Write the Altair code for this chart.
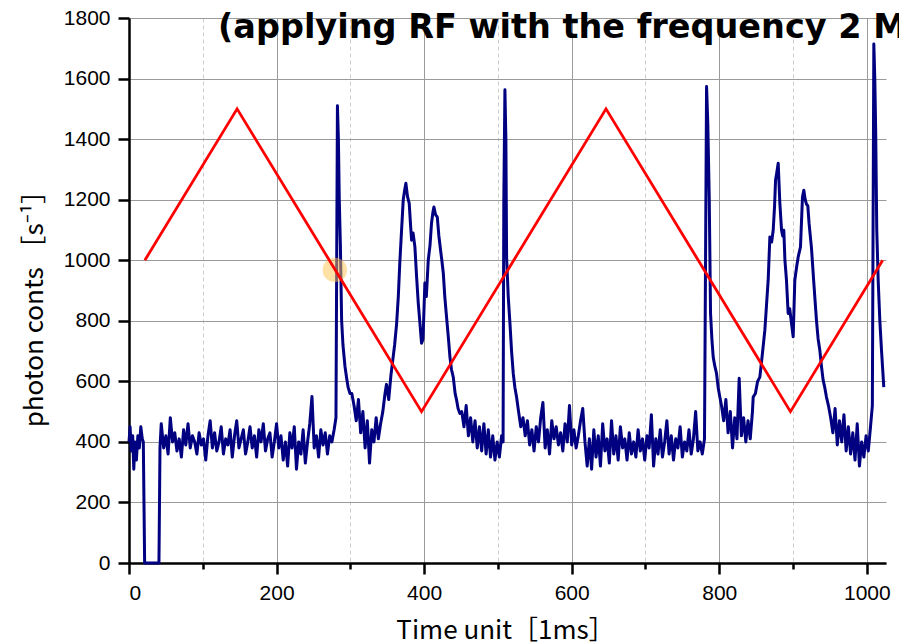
import altair as alt
import pandas as pd

# ---------------- data ----------------
title_text = "(applying RF with the frequency 2 MHz)"
x_title = "Time unit［1ms］"
y_title = "photon conts ［s⁻¹］"

x_tick_values = [0, 100, 200, 300, 400, 500, 600, 700, 800, 900, 1000]
y_tick_values = [0, 100, 200, 300, 400, 500, 600, 700, 800, 900, 1000,
                 1100, 1200, 1300, 1400, 1500, 1600, 1700, 1800]

# start of trace + dropout to zero
start_t = [0, 1.5, 3, 5, 6.5, 8, 10, 12, 14, 16, 18, 19.4, 21.2, 40.6, 42, 43.7]
start_v = [400, 450, 370, 420, 310, 400, 340, 420, 380, 450, 410, 400, 0, 0, 380, 460]

# baseline 47..278
base1_t = list(range(47, 279, 3))
base1_v = [380, 420, 360, 480, 400, 430, 370, 410, 350, 440,
           390, 460, 380, 420, 400, 360, 430, 390, 410, 340,
           420, 470, 380, 430, 370, 400, 450, 360, 410, 390,
           440, 350, 420, 470, 380, 410, 440, 360, 400, 450,
           380, 420, 350, 440, 400, 460, 370, 410, 430, 350,
           400, 460, 380, 420, 340, 400, 320, 430, 380, 450,
           310, 400, 360, 440, 330, 400, 460, 550, 380, 420,
           350, 440, 390, 430, 360, 420, 400, 440]

# spike 1
spike1_t = [280.5, 282.5, 283.8, 285, 286.5, 288.2, 290, 292.7, 295, 297, 299.5]
spike1_v = [480, 1510, 1400, 1200, 1050, 800, 720, 650, 610, 580, 560]

noise1_t = list(range(302, 347, 3))
noise1_v = [560, 520, 470, 540, 430, 500, 380, 470, 330, 440, 400, 480, 410, 460, 500]

# double peak 1
peakA_t = [347, 349, 352, 355, 358, 360, 362.7, 365, 367, 369,
           371.7, 373.5, 375.3, 377.5, 379.8, 381.5, 383, 385, 387.5, 389.8,
           392, 394.3, 396.5, 398.5, 401, 403, 405.6, 408, 410, 412,
           413.3, 415.5, 417.8, 420, 422.3, 424, 426, 428, 430.4, 433,
           435, 437, 439.5, 442, 444, 446, 448.5]
peakA_v = [560, 590, 540, 620, 680, 720, 790, 880, 990, 1080,
           1200, 1230, 1254, 1210, 1188, 1120, 1066, 1090, 1044, 945,
           860, 792, 726, 740, 925, 880, 1000, 1050, 1122, 1160,
           1176, 1150, 1143, 1080, 1033, 1000, 957, 880, 812, 740,
           680, 640, 614, 560, 538, 510, 494]

noise2_t = list(range(451, 506, 3))
noise2_v = [500, 450, 520, 420, 480, 400, 470, 380, 450, 370,
            460, 360, 440, 350, 420, 340, 400, 350, 420]

# spike 2
spike2_t = [507, 508, 509.5, 510.8, 511.8, 514, 516.3, 518.5, 520.8, 523, 525.3]
spike2_v = [400, 1200, 1563, 1400, 1010, 880, 792, 700, 626, 580, 548]

# baseline 528..780
base2_t = list(range(528, 781, 3))
base2_v = [500, 450, 480, 420, 470, 390, 440, 370, 450, 400,
           480, 530, 380, 440, 360, 470, 410, 450, 390, 430,
           370, 460, 400, 520, 390, 440, 380, 420, 470, 510,
           400, 320, 410, 310, 440, 350, 420, 320, 460, 370,
           410, 330, 470, 360, 420, 340, 450, 380, 410, 340,
           430, 360, 400, 350, 440, 370, 410, 340, 420, 380,
           490, 320, 410, 360, 440, 350, 400, 470, 360, 420,
           340, 410, 380, 450, 350, 400, 370, 440, 360, 410,
           500, 370, 400, 360, 410]

# spike 3
spike3_t = [782.8, 784.5, 786.4, 788.2, 790, 791.8, 794, 796.3, 798.5, 800.8]
spike3_v = [1574, 1450, 1210, 824, 740, 680, 650, 626, 580, 548]

noise3_t = list(range(803, 846, 3))
noise3_v = [520, 470, 540, 430, 500, 380, 480, 410, 610, 420, 480, 400, 470, 410, 500]

# double peak 2
peakB_t = [846, 849, 852, 855, 858, 861.8, 864, 866.3, 868.6, 871,
           873.1, 875, 876.3, 878, 879.9, 882.1, 884.4, 886, 887.5, 889,
           891.1, 893.4, 895.5, 897.9, 900.2, 902.4, 905, 907, 910.1, 912.8,
           914.6, 916.5, 918.2, 920, 921.8, 925, 928.2, 931.8, 934, 936.3,
           938.5, 940.8, 943, 945.3, 948]
peakB_v = [548, 560, 600, 614, 680, 769, 850, 934, 1077, 1060,
           1099, 1180, 1264, 1290, 1320, 1190, 1100, 1080, 1099, 1000,
           934, 824, 840, 792, 747, 934, 980, 1011, 1044, 1209,
           1231, 1200, 1185, 1180, 1120, 1040, 924, 800, 740, 703,
           650, 604, 580, 548, 520]

noise4_t = list(range(951, 1006, 3))
noise4_v = [480, 430, 510, 390, 470, 400, 490, 370, 450, 360,
            430, 340, 460, 320, 400, 350, 420, 370, 450]

# spike 4
spike4_t = [1007.5, 1009.5, 1010.8, 1012, 1013.5, 1015.4, 1017.6, 1019.9, 1021.5, 1023]
spike4_v = [520, 1714, 1600, 1431, 1099, 934, 802, 703, 640, 581]

# triangular RF sweep
rf_t = [21.5, 146.5, 396.5, 646.5, 896.5, 1021.5]
rf_v = [1000, 1500, 500, 1500, 500, 1000]

# cursor highlight
mark_t = [279]
mark_v = [968]

# ---------------- build tables ----------------
segments_t = [start_t, base1_t, spike1_t, noise1_t, peakA_t, noise2_t, spike2_t,
              base2_t, spike3_t, noise3_t, peakB_t, noise4_t, spike4_t]
segments_v = [start_v, base1_v, spike1_v, noise1_v, peakA_v, noise2_v, spike2_v,
              base2_v, spike3_v, noise3_v, peakB_v, noise4_v, spike4_v]
trace_t, trace_v = [], []
for ts, vs in zip(segments_t, segments_v):
    assert len(ts) == len(vs), (len(ts), len(vs))
    trace_t += list(ts)
    trace_v += list(vs)
trace = pd.DataFrame({"t": trace_t, "v": trace_v, "o": range(len(trace_t))})
rf = pd.DataFrame({"t": rf_t, "v": rf_v, "o": range(len(rf_t))})
cursor = pd.DataFrame({"t": mark_t, "v": mark_v})
title_df = pd.DataFrame({"txt": [title_text]})

W, H = 757, 545
xscale = alt.Scale(domain=[0, 1026], nice=False, zero=False)
yscale = alt.Scale(domain=[0, 1800], nice=False)

major_x = "datum.value % 200 === 0"
major_y = "datum.value % 200 === 0"

common_axis = dict(
    domainColor="black", domainWidth=2.5,
    tickColor="black", tickWidth=2.5,
    labelFont="Liberation Sans", labelFontSize=21, labelColor="black",
    titleFont="Noto Sans CJK JP", titleFontSize=26, titleColor="black",
    titleFontWeight="normal", format="d",
)

xaxis = alt.Axis(
    values=x_tick_values,
    labelExpr="datum.value % 200 === 0 ? datum.label : ''",
    gridDash={"condition": {"test": major_x, "value": []}, "value": [4, 3]},
    gridColor={"condition": {"test": major_x, "value": "#9a9a9a"}, "value": "#cccccc"},
    gridWidth=1,
    tickSize={"condition": {"test": major_x, "value": 11}, "value": 6},
    labelPadding=8,
    title=x_title, titleX=376, titleY=75, titleBaseline="alphabetic", titleAlign="center",
    **common_axis,
)
yaxis = alt.Axis(
    values=y_tick_values,
    labelExpr="datum.value % 200 === 0 ? datum.label : ''",
    gridDash={"condition": {"test": major_y, "value": []}, "value": [4, 3]},
    gridColor={"condition": {"test": major_y, "value": "#9a9a9a"}, "value": "#cccccc"},
    gridWidth=1,
    tickSize={"condition": {"test": major_y, "value": 11}, "value": 6},
    labelPadding=8,
    title=y_title, titleX=-87, titleY=284, titleAngle=270,
    titleBaseline="alphabetic", titleAlign="center",
    **common_axis,
)

base_x = alt.X("t:Q", scale=xscale, axis=xaxis)
base_y = alt.Y("v:Q", scale=yscale, axis=yaxis)

cursor_layer = alt.Chart(cursor).mark_circle(size=600, color="#FFC44D", opacity=0.5).encode(
    x=alt.X("t:Q", scale=xscale), y=alt.Y("v:Q", scale=yscale)
)
trace_layer = alt.Chart(trace).mark_line(color="#000080", strokeWidth=3, strokeJoin="round").encode(
    x=base_x, y=base_y, order="o:Q"
)
rf_layer = alt.Chart(rf).mark_line(color="#FF0000", strokeWidth=2.8).encode(
    x=alt.X("t:Q", scale=xscale), y=alt.Y("v:Q", scale=yscale), order="o:Q"
)
title_layer = alt.Chart(title_df).mark_text(
    align="left", baseline="alphabetic", font="DejaVu Sans", fontWeight="bold",
    fontSize=33.5, color="black"
).encode(x=alt.value(89), y=alt.value(20), text="txt:N")

chart = alt.layer(trace_layer, cursor_layer, rf_layer, title_layer).properties(
    width=W, height=H,
    autosize=alt.AutoSizeParams(type="none"),
    padding={"left": 129, "top": 18, "right": 13, "bottom": 81},
    background="white",
).configure_view(stroke=None)

chart.save("out.html", embed_options={"renderer": "svg", "actions": False})
